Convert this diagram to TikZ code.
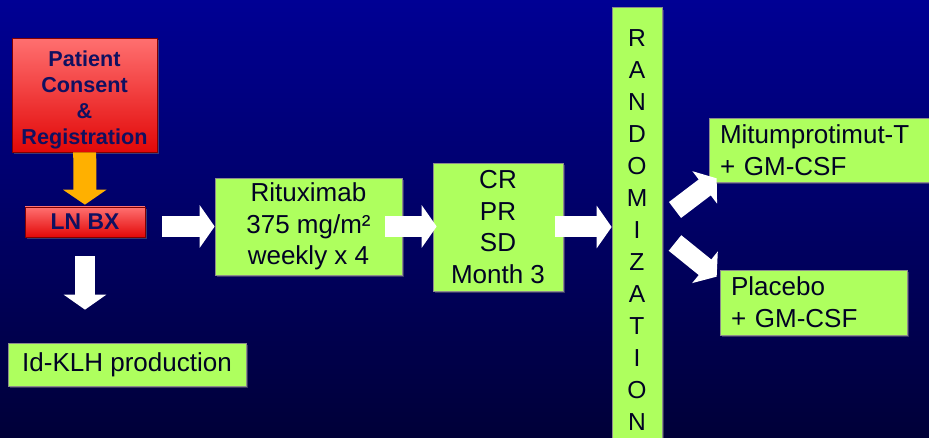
\documentclass[tikz,border=0pt]{standalone}
\usepackage{fontspec}
\setmainfont{Liberation Sans}
\usetikzlibrary{positioning, arrows.meta, shadows}
\definecolor{bgtop}{RGB}{0,0,148}
\definecolor{bgbot}{RGB}{0,0,56}
\definecolor{lime}{RGB}{174,255,94}
\definecolor{redtop}{RGB}{255,112,112}
\definecolor{redbot}{RGB}{226,8,8}
\definecolor{navy}{RGB}{16,16,96}
\definecolor{ink}{RGB}{2,2,36}
\definecolor{gold}{RGB}{255,176,0}
\tikzset{
	x=0.02cm, y=-0.02cm,
	align=center,
	boxshadow/.style={drop shadow={shadow xshift=0.04cm, shadow yshift=-0.04cm, opacity=0.45}},
	greenbox/.style={boxshadow, draw=black!45, line width=0.4pt, fill=lime, text=ink, inner sep=0pt, font=\fontsize{14.8}{18}\selectfont},
	redbox/.style={boxshadow, draw=red!50!black, line width=0.4pt, top color=redtop, bottom color=redbot, text=navy, inner sep=0pt, font=\bfseries\fontsize{12.3}{14.8}\selectfont},
	blockarrow/.style={draw=white, line width=0.42cm, -{Triangle[length=0.3cm, width=0.84cm]}},
	goldarrow/.style={blockarrow, draw=gold, line width=0.46cm, -{Triangle[length=0.3cm, width=0.86cm]}}
}

\begin{document}
\begin{tikzpicture}
	\useasboundingbox (0,0) rectangle (929,438);
	\shade[top color=bgtop, bottom color=bgbot] (0,0) rectangle (929,438);

	\node[redbox, minimum width=2.9cm, minimum height=2.28cm] (consent) at (84.5,95) {\rule{0pt}{0.52cm}Patient\\Consent\\\&\\Registration};
	\node[redbox, minimum width=2.4cm, minimum height=0.6cm, font=\bfseries\fontsize{13}{15}\selectfont] (lnbx) at (85,222) {LN BX};
	\node[greenbox, minimum width=4.76cm, minimum height=0.86cm] (idklh) at (127,364.5) {Id-KLH production};
	\node[greenbox, minimum width=3.74cm, minimum height=1.94cm] (ritux) at (308.5,226.5) {Rituximab\\375 mg/m²\\weekly x 4};
	\node[greenbox, minimum width=2.6cm, minimum height=2.56cm] (resp) at (498,227) {CR\\PR\\SD\\Month 3};
	\node[greenbox, minimum width=1cm, minimum height=8.9cm, font=\fontsize{14}{18.2}\selectfont] (rand) at (637,230) {R\\A\\N\\D\\O\\M\\I\\Z\\A\\T\\I\\O\\N};
	\node[greenbox, text width=4.08cm, minimum height=1.28cm, inner xsep=0.22cm, align=left] (mitu) at (822,150) {Mitumprotimut-T\\+ GM-CSF};
	\node[greenbox, text width=3.3cm, minimum height=1.3cm, inner xsep=0.22cm, align=left] (placebo) at (813.5,302.5) {Placebo\\+ GM-CSF};

	\coordinate (up) at (675,210);
	\coordinate (down) at (675,243);

	\draw
	(consent) edge[goldarrow, shorten >=0.04cm] (lnbx)
	(lnbx) edge[blockarrow, shorten <=0.38cm, shorten >=0.66cm] (lnbx |- idklh.north)
	(lnbx.east |- ritux) edge[blockarrow, shorten <=0.34cm] (ritux.west)
	(ritux.east) edge[blockarrow, shorten <=-0.34cm, shorten >=-0.08cm] (resp.west |- ritux)
	(resp.east) edge[blockarrow, shorten <=-0.16cm] (resp -| rand.west)
	(up) edge[blockarrow, line width=0.4cm, -{Triangle[length=0.3cm, width=0.8cm]}] ([shift={(8,-4)}]mitu.south west)
	(down) edge[blockarrow, line width=0.4cm, -{Triangle[length=0.3cm, width=0.8cm]}] ([shift={(-3,7)}]placebo.north west)
	;
\end{tikzpicture}
\end{document}
